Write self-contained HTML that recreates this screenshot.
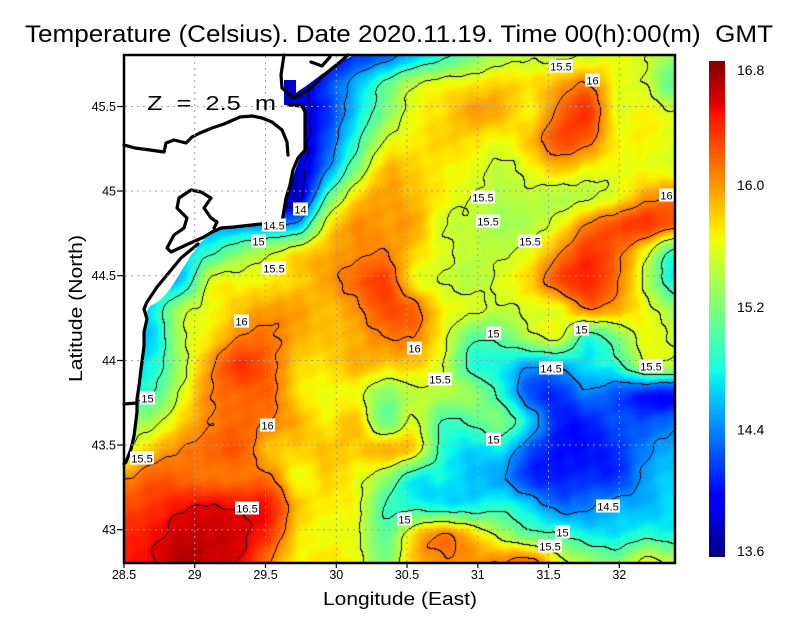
<!DOCTYPE html>
<html><head><meta charset="utf-8">
<style>
html,body{margin:0;padding:0;background:#fff;}
#wrap{position:relative;width:800px;height:618px;overflow:hidden;background:#fff;}
#c{position:absolute;left:124px;top:55px;width:551px;height:508px;}
svg{position:absolute;left:0;top:0;}
text{font-family:"Liberation Sans",sans-serif;fill:#000;}
.tk{font-size:12.5px;}
.cl{font-size:11px;}
</style></head><body><div id="wrap">
<canvas id="c" width="551" height="508"></canvas>
<svg width="800" height="618" viewBox="0 0 800 618" xmlns="http://www.w3.org/2000/svg">
<defs>
<linearGradient id="jet" x1="0" y1="1" x2="0" y2="0">
<stop offset="0" stop-color="rgb(0,0,128)"/>
<stop offset="0.11" stop-color="rgb(0,0,255)"/>
<stop offset="0.125" stop-color="rgb(0,0,255)"/>
<stop offset="0.34" stop-color="rgb(0,219,255)"/>
<stop offset="0.35" stop-color="rgb(0,230,247)"/>
<stop offset="0.375" stop-color="rgb(20,255,226)"/>
<stop offset="0.5" stop-color="rgb(123,255,123)"/>
<stop offset="0.64" stop-color="rgb(239,255,8)"/>
<stop offset="0.65" stop-color="rgb(247,245,0)"/>
<stop offset="0.66" stop-color="rgb(255,236,0)"/>
<stop offset="0.75" stop-color="rgb(255,151,0)"/>
<stop offset="0.89" stop-color="rgb(255,19,0)"/>
<stop offset="0.91" stop-color="rgb(232,0,0)"/>
<stop offset="1" stop-color="rgb(128,0,0)"/>
</linearGradient>
</defs>

<!-- land -->
<polygon fill="#fff" points="124,55 354,55 346,59 338,64 330,69 322,74 314,80 306,86 300,90 296,93 296,80 284,80 284,105 302,106 305,112 305,150 300,153 299,160 296,168 292,180 290,190 287,198 285,205 284,218 278,222 265,223 250,224 236,226 222,229 212,233 206,238 200,243 196,249 191,255 187,262 183,268 179,275 174,283 170,289 165,295 160,300 156,303 150,306 147,311 146,320 144,330 144,345 142,360 141,375 139,390 137,403 136,415 136,430 134,445 130,455 124,462"/>

<!-- coast / borders -->
<g fill="none" stroke="#000" stroke-width="3.2" stroke-linejoin="round" stroke-linecap="round">
<path d="M284,55 L281,75 L282,88 L294,98 L311,88 L324,75 L340,62 L348,55"/>
<path d="M311,62 L322,66 L330,57"/>
<path d="M289,105 L302,106 L305,112 L305,150 L298,158 L293,170 L290,185 L286,198 L284,210 L282,222 L261,224 L234,227 L221,228 L212,232 L204,237"/>
<path d="M124,145 L135,148 L150,150 L164,152 L166,143 L174,140 L186,143 L192,137 L200,133 L212,128 L224,124 L240,117 L252,116 L262,118 L272,122 L282,130 L287,142 L288,155"/>
<path d="M214,228 L217,222 L211,218 L204,208 L211,198 L201,192 L191,190 L179,198 L177,208 L187,218 L184,228 L174,235 L167,248 L171,252 L186,245 L204,237"/>
<path d="M198,244 L181,258 L167,275 L157,287 L147,302 L144,309 L147,319 L144,332 L144,346 L141,369 L139,386 L137,399 L137,412 L134,436 L131,449 L126,462 L124,464"/>
<path d="M124,404 L137,403"/>
</g>

<!-- grid -->
<g stroke="#a0a0a0" stroke-width="1" stroke-dasharray="2,4">
<line x1="194.7" y1="56" x2="194.7" y2="562"/>
<line x1="265.5" y1="56" x2="265.5" y2="562"/>
<line x1="336.3" y1="56" x2="336.3" y2="562"/>
<line x1="407" y1="56" x2="407" y2="562"/>
<line x1="477.8" y1="56" x2="477.8" y2="562"/>
<line x1="548.5" y1="56" x2="548.5" y2="562"/>
<line x1="619.3" y1="56" x2="619.3" y2="562"/>
<line x1="125" y1="106.5" x2="674" y2="106.5"/>
<line x1="125" y1="191" x2="674" y2="191"/>
<line x1="125" y1="275.7" x2="674" y2="275.7"/>
<line x1="125" y1="360.5" x2="674" y2="360.5"/>
<line x1="125" y1="445" x2="674" y2="445"/>
<line x1="125" y1="529.7" x2="674" y2="529.7"/>
</g>

<!-- Z label -->
<text x="147" y="110" font-size="20" textLength="129" lengthAdjust="spacingAndGlyphs" style="white-space:pre">Z  =  2.5  m</text>

<!-- contour labels -->
<g class="cl" text-anchor="middle">
<rect x="549" y="59.5" width="24" height="13" fill="#fff"/><text x="561" y="70.5">15.5</text>
<rect x="585" y="73.5" width="15" height="13" fill="#fff"/><text x="592.5" y="84.5">16</text>
<rect x="659" y="188.5" width="15" height="13" fill="#fff"/><text x="666.5" y="199.5">16</text>
<rect x="471" y="190.5" width="24" height="13" fill="#fff"/><text x="483" y="201.5">15.5</text>
<rect x="476" y="214.5" width="24" height="13" fill="#fff"/><text x="488" y="225.5">15.5</text>
<rect x="518" y="234.5" width="24" height="13" fill="#fff"/><text x="530" y="245.5">15.5</text>
<rect x="293" y="202.5" width="15" height="13" fill="#fff"/><text x="300.5" y="213.5">14</text>
<rect x="262" y="218.5" width="24" height="13" fill="#fff"/><text x="274" y="229.5">14.5</text>
<rect x="251" y="234.5" width="15" height="13" fill="#fff"/><text x="258.5" y="245.5">15</text>
<rect x="262" y="261.5" width="24" height="13" fill="#fff"/><text x="274" y="272.5">15.5</text>
<rect x="234" y="314.5" width="15" height="13" fill="#fff"/><text x="241.5" y="325.5">16</text>
<rect x="574" y="322.5" width="15" height="13" fill="#fff"/><text x="581.5" y="333.5">15</text>
<rect x="486" y="326.5" width="15" height="13" fill="#fff"/><text x="493.5" y="337.5">15</text>
<rect x="407" y="341.5" width="15" height="13" fill="#fff"/><text x="414.5" y="352.5">16</text>
<rect x="639" y="359.5" width="24" height="13" fill="#fff"/><text x="651" y="370.5">15.5</text>
<rect x="539" y="361.5" width="24" height="13" fill="#fff"/><text x="551" y="372.5">14.5</text>
<rect x="428" y="372.5" width="24" height="13" fill="#fff"/><text x="440" y="383.5">15.5</text>
<rect x="140" y="391.5" width="15" height="13" fill="#fff"/><text x="147.5" y="402.5">15</text>
<rect x="260" y="418.5" width="15" height="13" fill="#fff"/><text x="267.5" y="429.5">16</text>
<rect x="486" y="432.5" width="15" height="13" fill="#fff"/><text x="493.5" y="443.5">15</text>
<rect x="130" y="451.5" width="24" height="13" fill="#fff"/><text x="142" y="462.5">15.5</text>
<rect x="235" y="501.5" width="24" height="13" fill="#fff"/><text x="247" y="512.5">16.5</text>
<rect x="596" y="499.5" width="24" height="13" fill="#fff"/><text x="608" y="510.5">14.5</text>
<rect x="397" y="512.5" width="15" height="13" fill="#fff"/><text x="404.5" y="523.5">15</text>
<rect x="555" y="525.5" width="15" height="13" fill="#fff"/><text x="562.5" y="536.5">15</text>
<rect x="538" y="539.5" width="24" height="13" fill="#fff"/><text x="550" y="550.5">15.5</text>
</g>

<!-- frame -->
<rect x="124" y="55" width="551" height="508" fill="none" stroke="#000" stroke-width="2.5"/>

<!-- ticks -->
<g stroke="#000" stroke-width="1.2">
<line x1="117" y1="106.5" x2="124" y2="106.5"/>
<line x1="117" y1="191" x2="124" y2="191"/>
<line x1="117" y1="275.7" x2="124" y2="275.7"/>
<line x1="117" y1="360.5" x2="124" y2="360.5"/>
<line x1="117" y1="445" x2="124" y2="445"/>
<line x1="117" y1="529.7" x2="124" y2="529.7"/>
<line x1="124" y1="563" x2="124" y2="568"/>
<line x1="194.7" y1="563" x2="194.7" y2="568"/>
<line x1="265.5" y1="563" x2="265.5" y2="568"/>
<line x1="336.3" y1="563" x2="336.3" y2="568"/>
<line x1="407" y1="563" x2="407" y2="568"/>
<line x1="477.8" y1="563" x2="477.8" y2="568"/>
<line x1="548.5" y1="563" x2="548.5" y2="568"/>
<line x1="619.3" y1="563" x2="619.3" y2="568"/>
</g>
<g class="tk" text-anchor="end">
<text x="116" y="111">45.5</text>
<text x="116" y="195.5">45</text>
<text x="116" y="280.2">44.5</text>
<text x="116" y="365">44</text>
<text x="116" y="449.5">43.5</text>
<text x="116" y="534.2">43</text>
</g>
<g class="tk" text-anchor="middle">
<text x="124" y="579">28.5</text>
<text x="194.7" y="579">29</text>
<text x="265.5" y="579">29.5</text>
<text x="336.3" y="579">30</text>
<text x="407" y="579">30.5</text>
<text x="477.8" y="579">31</text>
<text x="548.5" y="579">31.5</text>
<text x="619.3" y="579">32</text>
</g>

<!-- titles -->
<text x="25" y="42" font-size="24" textLength="748" lengthAdjust="spacingAndGlyphs" style="white-space:pre">Temperature (Celsius). Date 2020.11.19. Time 00(h):00(m)  GMT</text>
<text x="323" y="605" font-size="18" textLength="154" lengthAdjust="spacingAndGlyphs">Longitude (East)</text>
<text transform="translate(82,382) rotate(-90)" x="0" y="0" font-size="18" textLength="147" lengthAdjust="spacingAndGlyphs">Latitude (North)</text>

<!-- colorbar -->
<rect x="709" y="61" width="16" height="496" fill="url(#jet)"/>
<g font-size="14">
<text x="737" y="75">16.8</text>
<text x="737" y="190">16.0</text>
<text x="737" y="312">15.2</text>
<text x="737" y="434.5">14.4</text>
<text x="737" y="556">13.6</text>
</g>
</svg>
</div>
<script>
(function(){
var G=[
[13.9,13.9,13.9,13.9,13.9,13.9,13.9,13.95,14.2,14.35,14.65,14.9,15.2,15.4,15.45,15.45,15.5,15.6,15.5,15.3],
[13.9,13.9,13.9,13.9,13.9,13.9,13.9,14.25,14.6,15.05,15.45,15.6,15.65,15.75,15.7,15.85,16.0,15.6,15.5,15.05],
[13.9,13.9,13.9,13.9,13.9,13.9,13.9,14.2,14.7,15.2,15.6,15.7,15.9,15.85,15.65,16.05,16.3,15.6,15.65,15.5],
[13.9,13.9,13.9,13.9,13.9,13.9,13.9,14.3,14.9,15.5,15.65,15.75,15.7,15.6,15.8,16.2,16.1,15.65,15.65,15.55],
[13.9,13.9,13.9,13.9,13.9,13.9,13.9,14.45,15.2,15.8,15.75,15.65,15.6,15.45,15.6,15.8,15.65,15.6,15.6,15.55],
[13.9,13.9,13.9,13.9,13.9,13.9,13.9,15.0,15.7,15.9,15.8,15.65,15.5,15.4,15.45,15.4,15.45,15.6,15.9,16.0],
[14.5,14.5,14.5,14.5,14.5,14.5,14.6,15.6,15.95,15.9,15.9,15.5,15.45,15.35,15.4,15.6,16.0,16.2,16.3,16.1],
[14.7,14.7,14.7,14.95,15.25,15.45,15.7,15.85,15.95,16.0,15.75,15.55,15.45,15.45,15.6,15.95,16.3,16.1,15.6,14.9],
[14.6,14.6,14.7,15.55,15.6,15.65,15.75,15.9,16.1,16.25,15.65,15.5,15.4,15.55,15.75,16.2,16.35,16.05,15.45,14.8],
[14.7,14.8,15.4,15.6,15.8,15.9,15.9,15.8,15.95,16.2,16.1,15.65,15.55,15.45,15.55,15.6,16.0,15.85,15.6,15.3],
[14.6,14.7,15.45,15.7,16.0,16.05,15.85,15.8,15.85,16.0,16.0,15.6,15.1,15.1,15.4,15.55,14.9,15.2,15.6,15.45],
[14.7,14.85,15.4,15.95,16.3,16.1,15.75,15.7,15.85,15.75,15.75,15.5,14.9,14.8,14.55,14.6,14.75,14.9,15.4,15.4],
[14.9,15.0,15.55,16.0,16.1,16.1,15.7,15.6,15.6,15.25,15.45,15.4,15.3,14.9,14.3,14.2,14.45,14.3,14.15,14.1],
[15.3,15.4,15.75,16.0,16.1,16.0,15.85,15.65,15.8,15.15,15.55,15.0,15.05,15.2,14.7,14.15,14.15,14.3,14.3,14.4],
[15.5,15.8,16.0,16.1,16.15,15.8,15.75,15.8,15.75,15.85,15.7,14.9,14.7,14.75,14.3,14.1,14.1,14.2,14.45,14.6],
[15.95,16.15,16.1,16.05,16.05,16.05,15.6,15.75,15.6,15.3,14.8,14.8,14.65,14.55,14.2,14.15,14.2,14.2,14.55,14.7],
[16.2,16.3,16.45,16.5,16.45,16.4,15.8,15.65,15.6,15.0,14.9,14.8,14.8,14.9,14.7,14.4,14.45,14.6,14.6,14.75],
[16.35,16.45,16.6,16.6,16.55,16.3,15.7,15.6,15.55,15.1,15.7,16.0,15.75,15.4,15.1,15.0,14.8,14.75,14.9,14.8],
[16.4,16.5,16.7,16.6,16.5,16.0,15.65,15.7,15.6,15.2,15.8,15.95,15.95,16.0,16.1,15.6,15.35,15.2,15.6,15.4]
];
var W=551,H=508,NR=G.length,NC=G[0].length;
var cv=document.getElementById('c');
if(!cv||!cv.getContext)return;
var ctx=cv.getContext('2d');
var im=ctx.createImageData(W,H),d=im.data;
var T=new Float32Array(W*H);
function g(r,c){if(r<0)r=0;if(r>NR-1)r=NR-1;if(c<0)c=0;if(c>NC-1)c=NC-1;return G[r][c];}
function cr(a,b,c,e,t){return b+0.5*t*(c-a+t*(2*a-5*b+4*c-e+t*(3*(b-c)+e-a)));}
var sx=(W-1)/(NC-1),sy=(H-1)/(NR-1);
for(var y=0;y<H;y++){
  var gy=y/sy,r=Math.floor(gy);if(r>NR-2)r=NR-2;var fy=gy-r;
  for(var x=0;x<W;x++){
    var gx=x/sx,c=Math.floor(gx);if(c>NC-2)c=NC-2;var fx=gx-c;
    var v0=cr(g(r-1,c-1),g(r-1,c),g(r-1,c+1),g(r-1,c+2),fx);
    var v1=cr(g(r,c-1),g(r,c),g(r,c+1),g(r,c+2),fx);
    var v2=cr(g(r+1,c-1),g(r+1,c),g(r+1,c+1),g(r+1,c+2),fx);
    var v3=cr(g(r+2,c-1),g(r+2,c),g(r+2,c+1),g(r+2,c+2),fx);
    var val=cr(v0,v1,v2,v3,fy);
    val+=0.03*Math.sin(x*0.21+y*0.13)*Math.cos(y*0.17-x*0.07);
    T[y*W+x]=val;
  }
}
function jet(t){
  if(t<0)t=0;if(t>1)t=1;
  var r,gg,b;
  r=t<0.35?0:(t<0.66?(t-0.35)/0.31:(t<0.89?1:1-0.5*(t-0.89)/0.11));
  gg=t<0.125?0:(t<0.375?(t-0.125)/0.25:(t<0.64?1:(t<0.91?1-(t-0.64)/0.27:0)));
  b=t<0.11?0.5+0.5*t/0.11:(t<0.34?1:(t<0.65?1-(t-0.34)/0.31:0));
  return [r*255,gg*255,b*255];
}
function cmap(v){
  var u;
  if(v>16.0){u=15.3+0.7*1.12+(v-16.0)*0.85;}
  else if(v>15.3){u=15.3+(v-15.3)*1.12;}
  else{u=15.3+(v-15.3)*1.05;}
  return jet((u-13.6)/3.2);
}
function lev(t){var l=Math.floor((t-14)/0.5)+1;return l<0?0:(l>6?6:l);}
for(var y2=0;y2<H;y2++){
  for(var x2=0;x2<W;x2++){
    var i=y2*W+x2,tv=T[i],k=i*4;
    var L=lev(tv);
    var edge=(x2<W-1&&lev(T[i+1])!=L)||(y2<H-1&&lev(T[i+W])!=L);
    if(edge){d[k]=0;d[k+1]=0;d[k+2]=0;}
    else{var col=cmap(tv);d[k]=col[0];d[k+1]=col[1];d[k+2]=col[2];}
    d[k+3]=255;
  }
}
ctx.putImageData(im,0,0);
})();
</script>
</body></html>
